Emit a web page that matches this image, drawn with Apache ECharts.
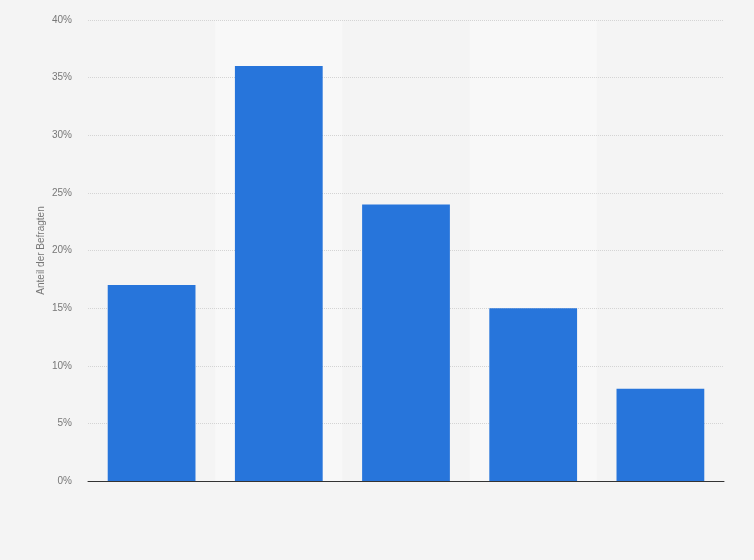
<!DOCTYPE html>
<html>
<head>
<meta charset="utf-8">
<script src="https://cdn.jsdelivr.net/npm/echarts@6/dist/echarts.min.js"></script>
<style>html,body{margin:0;padding:0;background:#f4f4f4;}#c{width:754px;height:560px;}</style>
</head>
<body>
<div id="c"></div>
<script>
const categories = ['1', '2', '3', '4', '5'];
const values = [17, 36, 24, 15, 8];
const yAxisName = 'Anteil der Befragten';

const chart = echarts.init(document.getElementById('c'));
chart.setOption({
  backgroundColor: '#f4f4f4',
  animation: false,
  grid: { left: 88, right: 30, top: 20, bottom: 79, containLabel: false },
  xAxis: {
    type: 'category',
    data: categories,
    z: 0,
    axisLine: { show: true, lineStyle: { color: '#333', width: 1 } },
    axisTick: { show: false },
    axisLabel: { show: false },
    splitArea: { show: true, areaStyle: { color: ['rgba(0,0,0,0)', '#f8f8f8'] } }
  },
  yAxis: {
    type: 'value',
    min: 0, max: 40, interval: 5,
    z: 1,
    name: yAxisName,
    nameLocation: 'middle',
    nameGap: 42,
    nameMoveOverlap: false,
    nameTextStyle: { color: '#777', fontSize: 10, fontFamily: 'Arial, Liberation Sans, sans-serif' },
    axisLine: { show: false },
    axisTick: { show: false },
    axisLabel: { formatter: '{value}%', color: '#777', fontSize: 10, margin: 16, fontFamily: 'Arial, Liberation Sans, sans-serif' },
    splitLine: { show: true, showMinLine: false, lineStyle: { color: '#d4d4d4', type: [1, 1], width: 1 } }
  },
  series: [{
    type: 'bar',
    data: values,
    barWidth: '69%',
    z: 2,
    itemStyle: { color: '#2775db' }
  }]
});
</script>
</body>
</html>
